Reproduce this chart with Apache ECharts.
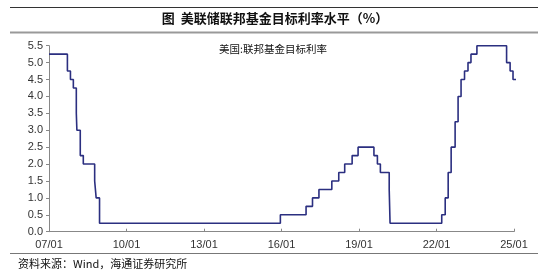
<!DOCTYPE html>
<html>
<head>
<meta charset="utf-8">
<script src="https://cdn.jsdelivr.net/npm/echarts@6/dist/echarts.min.js"></script>
<style>
html,body{margin:0;padding:0;background:#fff;}
#c{width:550px;height:277px;}
</style>
</head>
<body>
<div id="c"></div>
<script>
// Fed funds target rate (upper bound), change dates and new levels
const changeDates = [
  '2007-01-01','2007-09-18','2007-10-31','2007-12-11','2008-01-22','2008-01-30',
  '2008-03-18','2008-04-30','2008-10-08','2008-10-29','2008-12-16',
  '2015-12-16','2016-12-14','2017-03-15','2017-06-14','2017-12-13',
  '2018-03-21','2018-06-13','2018-09-26','2018-12-19',
  '2019-07-31','2019-09-18','2019-10-30','2020-03-03','2020-03-15',
  '2022-03-16','2022-05-04','2022-06-15','2022-07-27','2022-09-21',
  '2022-11-02','2022-12-14','2023-02-01','2023-03-22','2023-05-03','2023-07-26',
  '2024-09-18','2024-11-07','2024-12-18','2025-02-01'
];
const rates = [
  5.25,4.75,4.5,4.25,3.5,3.0,
  2.25,2.0,1.5,1.0,0.25,
  0.5,0.75,1.0,1.25,1.5,
  1.75,2.0,2.25,2.5,
  2.25,2.0,1.75,1.25,0.25,
  0.5,1.0,1.75,2.5,3.25,
  4.0,4.5,4.75,5.0,5.25,5.5,
  5.0,4.75,4.5,4.5
];
const seriesName = '美国:联邦基金目标利率';
const titleText = '图  美联储联邦基金目标利率水平（%）';
const sourceText = '资料来源：Wind，海通证券研究所';
const xTickYears = [2007, 2010, 2013, 2016, 2019, 2022, 2025];

function toYear(s) {
  const d = new Date(s + 'T00:00:00Z');
  const y = d.getUTCFullYear();
  const start = Date.UTC(y, 0, 1), end = Date.UTC(y + 1, 0, 1);
  return y + (d.getTime() - start) / (end - start);
}
const seriesData = changeDates.map((d, i) => [toYear(d), rates[i]]);

const chart = echarts.init(document.getElementById('c'), null, {renderer: 'canvas'});
chart.setOption({
  animation: false,
  backgroundColor: '#fff',
  grid: {left: 49, right: 36, top: 45.7, bottom: 45.3, containLabel: false},
  xAxis: {
    type: 'value',
    min: xTickYears[0],
    max: xTickYears[xTickYears.length - 1],
    interval: 3,
    splitLine: {show: false},
    axisLine: {lineStyle: {color: '#888', width: 1}},
    axisTick: {show: true, inside: true, length: 3, lineStyle: {color: '#888'}},
    axisLabel: {
      color: '#333', fontSize: 11, fontFamily: 'Liberation Sans, Arial', margin: 8,
      formatter: v => String(Math.round(v) % 100).padStart(2, '0') + '/01'
    }
  },
  yAxis: {
    type: 'value',
    min: 0, max: 5.5, interval: 0.5,
    splitLine: {show: false},
    axisLine: {show: true, lineStyle: {color: '#888', width: 1}},
    axisTick: {show: true, length: 3, lineStyle: {color: '#888'}},
    axisLabel: {
      color: '#333', fontSize: 11, fontFamily: 'Liberation Sans, Arial', margin: 6,
      formatter: v => v.toFixed(1)
    }
  },
  series: [{
    name: seriesName,
    type: 'line',
    step: 'end',
    data: seriesData,
    showSymbol: false,
    clip: false,
    lineStyle: {color: '#2B2F80', width: 1.6}
  }],
  graphic: [
    {type: 'line', shape: {x1: 10, y1: 7.5, x2: 538, y2: 7.5}, style: {stroke: '#333', lineWidth: 1}},
    {type: 'line', shape: {x1: 10, y1: 32.5, x2: 538, y2: 32.5}, style: {stroke: '#999', lineWidth: 2}},
    {type: 'text', left: 'center', top: 12, style: {text: titleText, fontSize: 13, fontWeight: 'bold', fill: '#111', fontFamily: 'Noto Sans CJK SC'}},
    {type: 'text', x: 219, y: 44, style: {text: seriesName, fontSize: 10.5, fill: '#111', fontFamily: 'Noto Sans CJK SC'}},
    {type: 'line', shape: {x1: 10, y1: 253.5, x2: 538, y2: 253.5}, style: {stroke: '#777', lineWidth: 1}},
    {type: 'text', x: 18, y: 258, style: {text: sourceText, fontSize: 11, fill: '#111', fontFamily: 'Noto Sans CJK SC'}}
  ]
});
</script>
</body>
</html>
